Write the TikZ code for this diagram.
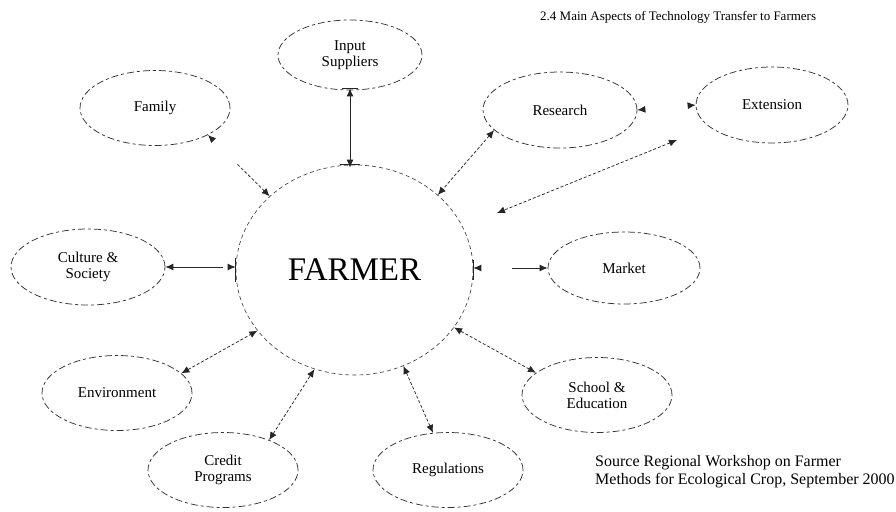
\documentclass[tikz,border=0pt]{standalone}
\usepackage{fontspec}
\setmainfont{Liberation Serif}
\usetikzlibrary{shapes.geometric,arrows.meta}
\tikzset{
  aspect/.style={ellipse, draw=black!80, line width=0.75pt, dash pattern=on 7pt off 3pt on 3pt off 3pt,
    minimum width=150pt, minimum height=75pt, inner sep=0pt, align=center,
    font=\fontsize{15}{16}\selectfont},
  hub/.style={ellipse, draw=black!75, line width=0.65pt, dash pattern=on 4pt off 3pt,
    minimum width=237pt, minimum height=210pt, inner sep=0pt, font=\fontsize{33}{36}\selectfont},
  dlink/.style={{Latex[length=8pt,width=7pt]}-{Latex[length=8pt,width=7pt]}, line width=0.75pt, black!85, dash pattern=on 3pt off 2pt},
  slink/.style={{Latex[length=8pt,width=7pt]}-{Latex[length=8pt,width=7pt]}, line width=0.85pt, black!85},
  bar/.style={line width=1.1pt, black!85},
  note/.style={anchor=west, inner sep=0pt, align=left}
}
\begin{document}
\begin{tikzpicture}[x=1pt,y=-1pt]
\useasboundingbox (0,0) rectangle (896,511);

\node[note, font=\fontsize{13}{14}\selectfont] (title) at (540,17) {2.4 Main Aspects of Technology Transfer to Farmers};

\node[hub] (farmer) at (354.5,270) {FARMER};

\node[aspect, minimum width=144pt, minimum height=70pt] (input) at (350,55) {Input\\Suppliers};
\node[aspect] (family) at (155,108) {Family};
\node[aspect, minimum width=154pt, minimum height=76pt] (research) at (560,110) {Research};
\node[aspect, minimum width=152pt, minimum height=76pt] (extension) at (772,105) {Extension};
\node[aspect, minimum width=154pt, minimum height=76pt] (culture) at (88,267) {Culture \&\\Society};
\node[aspect, minimum width=152pt, minimum height=72pt] (market) at (624,268) {Market};
\node[aspect] (environment) at (117,393) {Environment};
\node[aspect] (credit) at (223,470) {Credit\\Programs};
\node[aspect] (regulations) at (448,470) {Regulations};
\node[aspect] (school) at (597,395) {School \&\\Education};

\node[note, font=\fontsize{16}{18}\selectfont] (source) at (595,472) {Source Regional Workshop on Farmer\\Methods for Ecological Crop, September 2000};

\coordinate (extA) at (677,140);
\coordinate (extB) at (497,213);

% connectors
\draw[slink] ([yshift=2pt]input.south) -- ([yshift=-3pt]input.south |- farmer.north);
\draw[bar] ([xshift=-8pt,yshift=2pt]input.south) -- ([xshift=8pt,yshift=2pt]input.south);
\draw[bar] ([xshift=-10pt]input.south |- farmer.north) -- ([xshift=10pt]input.south |- farmer.north);

\draw[dlink, dash pattern=on 0pt off 34pt on 3pt off 2pt on 3pt off 2pt on 3pt off 2pt on 3pt off 2pt on 3pt off 2pt on 3pt off 2pt on 3pt off 2pt on 3pt off 2pt on 3pt off 2pt on 3pt off 2pt] (family.333) -- (farmer.139);
\draw[dlink] (research.197) -- (farmer.42);
\draw[dlink, dash pattern=on 0pt off 80pt] (research.east) -- (extension.west);
\draw[dlink] (extA) -- (extB);
\draw[slink, dash pattern=on 50pt off 100pt] (culture.east) -- (farmer.west |- culture.east);
\draw[bar] ([yshift=-12pt]farmer.west) -- ([yshift=12pt]farmer.west);
\draw[slink, dash pattern=on 0pt off 31pt on 40pt off 100pt] (farmer.east |- market.west) -- (market.west);
\draw[bar] ([yshift=-10pt]farmer.east) -- ([yshift=10pt]farmer.east);
\draw[dlink] (environment.17) -- (farmer.212);
\draw[dlink] (credit.33) -- (farmer.248);
\draw[dlink] (regulations.112) -- (farmer.297);
\draw[dlink] (school.160) -- (farmer.330);
\end{tikzpicture}
\end{document}
